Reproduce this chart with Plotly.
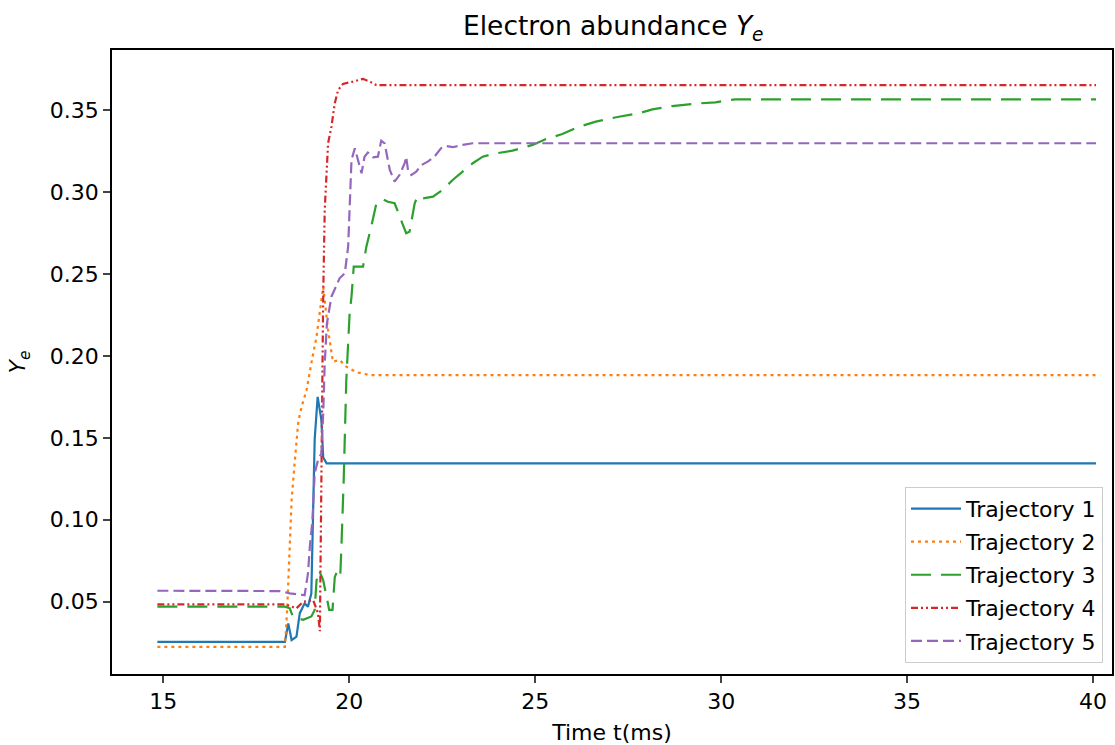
import plotly.graph_objects as go

# ---- data ----
t1 = [14.84, 18.27, 18.36, 18.45, 18.58, 18.67, 18.80, 18.89, 18.98, 19.03, 19.07, 19.15, 19.25, 19.30, 19.39, 40.08]
y1 = [0.0255, 0.0255, 0.0368, 0.0266, 0.0287, 0.043, 0.049, 0.047, 0.055, 0.100, 0.149, 0.175, 0.161, 0.138, 0.1344, 0.1344]

t2 = [14.84, 18.27, 18.33, 18.40, 18.45, 18.54, 18.63, 18.72, 18.85, 18.98, 19.12, 19.25, 19.30, 19.43, 19.56, 19.74, 19.92, 20.19, 20.55, 40.08]
y2 = [0.0225, 0.0225, 0.045, 0.090, 0.112, 0.137, 0.160, 0.169, 0.179, 0.1955, 0.2117, 0.234, 0.242, 0.2158, 0.1964, 0.1975, 0.1934, 0.190, 0.1883, 0.1883]

t3 = [14.84, 18.27, 18.40, 18.49, 18.76, 18.98, 19.07, 19.12, 19.19, 19.30, 19.39, 19.46, 19.55, 19.61, 19.70, 19.76, 19.79,
      19.85, 19.92, 20.01, 20.06, 20.12, 20.37, 20.46, 20.59, 20.73, 20.91, 21.04, 21.22, 21.35, 21.53, 21.62, 21.76, 21.84,
      21.98, 22.25, 22.51, 22.78, 23.05, 23.32, 23.59, 23.86, 24.39, 24.93, 25.29, 25.73, 26.18, 26.63, 27.25, 27.79, 28.15,
      28.68, 29.40, 29.85, 30.12, 30.38, 40.08]
y3 = [0.047, 0.047, 0.046, 0.0405, 0.039, 0.041, 0.045, 0.063, 0.069, 0.063, 0.053, 0.045, 0.045, 0.065, 0.070, 0.067, 0.084,
      0.124, 0.185, 0.226, 0.236, 0.2544, 0.2544, 0.2666, 0.2788, 0.2931, 0.2955, 0.294, 0.2931, 0.2849, 0.2748, 0.2757, 0.2931, 0.2975,
      0.2961, 0.2971, 0.3012, 0.3073, 0.3124, 0.3175, 0.3215, 0.3232, 0.3252, 0.3287, 0.3323, 0.3353, 0.3398, 0.3429, 0.3459, 0.348, 0.3504,
      0.3524, 0.354, 0.3547, 0.3557, 0.3565, 0.3565]

t4 = [14.84, 18.27, 18.58, 18.76, 19.03, 19.16, 19.21, 19.25, 19.30, 19.34, 19.43, 19.52, 19.61, 19.70, 19.83, 20.10, 20.37, 20.55, 20.73, 40.08]
y4 = [0.0484, 0.0484, 0.046, 0.050, 0.051, 0.043, 0.032, 0.140, 0.238, 0.289, 0.3297, 0.3398, 0.354, 0.3622, 0.3659, 0.3673, 0.3690, 0.3673, 0.3652, 0.3652]

t5 = [14.84, 18.14, 18.40, 18.72, 18.80, 18.89, 18.94, 19.01, 19.07, 19.16, 19.25, 19.30, 19.34, 19.40, 19.52, 19.74, 19.88, 19.97,
      20.06, 20.15, 20.24, 20.33, 20.41, 20.50, 20.64, 20.77, 20.86, 20.95, 21.09, 21.22, 21.35, 21.49, 21.53, 21.58, 21.67, 21.80,
      21.94, 22.11, 22.29, 22.47, 22.61, 22.78, 23.05, 23.32, 40.08]
y5 = [0.0567, 0.0565, 0.0551, 0.0545, 0.054, 0.0673, 0.0836, 0.0998, 0.1283, 0.1365, 0.1405, 0.165, 0.1955, 0.2199, 0.2361, 0.2473, 0.2504, 0.2666,
      0.3195, 0.3267, 0.3195, 0.3114, 0.3215, 0.324, 0.3211, 0.3215, 0.3313, 0.3297, 0.3134, 0.3063, 0.3103, 0.3175, 0.3215, 0.3134, 0.3103, 0.3124,
      0.3164, 0.3185, 0.3215, 0.3267, 0.328, 0.3273, 0.3287, 0.3297, 0.3297]

names = ["Trajectory 1", "Trajectory 2", "Trajectory 3", "Trajectory 4", "Trajectory 5"]
x_ticks = [15, 20, 25, 30, 35, 40]
y_ticks = [0.05, 0.10, 0.15, 0.20, 0.25, 0.30, 0.35]

colors = ["#1f77b4", "#ff7f0e", "#2ca02c", "#d62728", "#9467bd"]
dashes = ["solid", "3px,4px", "20px,10px", "7px,3px,2px,3px,2px,3px", "11px,5px"]

fig = go.Figure()
for t, y, n, c, d in zip([t1, t2, t3, t4, t5], [y1, y2, y3, y4, y5], names, colors, dashes):
    fig.add_trace(go.Scatter(x=t, y=y, mode="lines", name=n, legendgroup=n,
                             line=dict(color=c, width=2.2, dash=d)))

font = "DejaVu Sans, Arial, sans-serif"
fig.update_layout(
    width=1115, height=745,
    margin=dict(l=112, r=1, t=50, b=71),
    paper_bgcolor="white", plot_bgcolor="white",
    font=dict(family=font, size=22, color="black"),
    title=dict(text="Electron abundance <i>Y</i><sub><i>e</i></sub>", x=0.55, xanchor="center",
               y=0.978, yanchor="top", font=dict(size=26.5)),
    showlegend=True,
    legend=dict(x=0.991, y=0.018, xanchor="right", yanchor="bottom",
                bgcolor="rgba(255,255,255,0.8)", bordercolor="#cccccc", borderwidth=1,
                font=dict(size=22), tracegroupgap=1.5, itemwidth=50),
)
fig.update_xaxes(range=[13.62, 40.51], tickvals=x_ticks, ticks="outside", ticklen=7, tickwidth=1.5,
                 showline=True, linecolor="black", linewidth=1.5, mirror=True, showgrid=False, zeroline=False,
                 title=dict(text="Time t(ms)", standoff=12, font=dict(size=22)), tickfont=dict(size=22))
fig.update_yaxes(range=[0.0059, 0.3866], tickvals=y_ticks, tickformat=".2f", ticks="outside", ticklen=7, tickwidth=1.5,
                 showline=True, linecolor="black", linewidth=1.5, mirror=True, showgrid=False, zeroline=False,
                 title=dict(text="<i>Y</i><sub><i>e</i></sub>", standoff=18, font=dict(size=22)), tickfont=dict(size=22))

fig.write_html("out.html")
